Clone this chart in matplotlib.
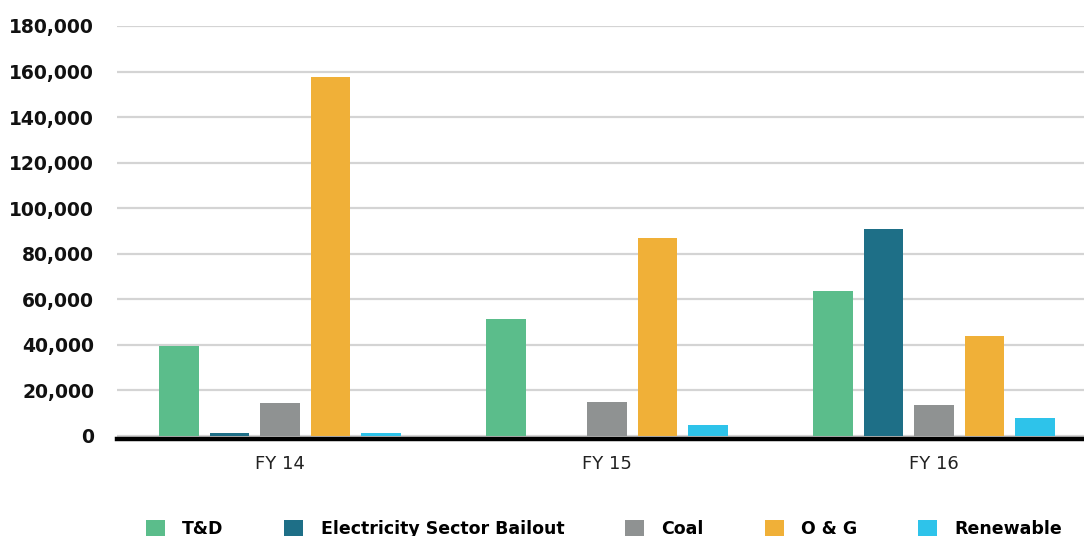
import numpy as np
import matplotlib
matplotlib.use("Agg")
import matplotlib.pyplot as plt
from matplotlib.ticker import FuncFormatter

# data
years = ["FY 14", "FY 15", "FY 16"]
series = ["T&D", "Electricity Sector Bailout", "Coal", "O & G", "Renewable"]
td = [39500, 51500, 63800]
bailout = [1100, 0, 90900]
coal = [14600, 15000, 13700]
oil_gas = [157600, 87000, 44000]
renewable = [1500, 4900, 8000]
colors = ["#5bbd8b", "#1e6f87", "#8f9292", "#f0b038", "#2ec3ea"]

values = [td, bailout, coal, oil_gas, renewable]

fig = plt.figure(figsize=(10.84, 5.36), dpi=100)
# zero sits at y=436px, 180,000 at y=26px; a bit of room below zero for the black baseline
ax = fig.add_axes([116.5 / 1084, 97.3 / 536, 981 / 1084, 412.7 / 536])

x = np.arange(len(years))
step = 0.1545
width = 0.122
for i, (name, vals) in enumerate(zip(series, values)):
    ax.bar(x + (i - 2) * step, vals, width, color=colors[i], label=name, zorder=3)

ax.set_xlim(-0.5, 2.5)
ax.set_ylim(-1200, 180000)
ax.set_yticks(np.arange(0, 180001, 20000))
ax.yaxis.set_major_formatter(FuncFormatter(lambda v, p: f"{int(v):,}"))
ax.grid(axis="y", color="#d4d4d4", linewidth=1.6, zorder=0)
ax.set_axisbelow(True)

for s in ["top", "right", "left"]:
    ax.spines[s].set_visible(False)
ax.spines["bottom"].set_color("black")
ax.spines["bottom"].set_linewidth(3.2)
ax.spines["bottom"].set_zorder(4)

ax.set_xticks(x)
ax.set_xticklabels(years, fontsize=13, color="#222222")
ax.tick_params(axis="x", length=0, pad=12)
ax.tick_params(axis="y", length=0, pad=16, labelsize=13.5)
for lab in ax.get_yticklabels():
    lab.set_fontweight("bold")
    lab.set_color("#111111")

fig.legend(loc="center", bbox_to_anchor=(604 / 1084, 7 / 536), ncol=5,
           frameon=False, prop={"weight": "bold", "size": 12.5},
           handlelength=1.1, handleheight=1.1, handletextpad=1.0,
           columnspacing=3.5)

fig.savefig("out.png", dpi=100)
